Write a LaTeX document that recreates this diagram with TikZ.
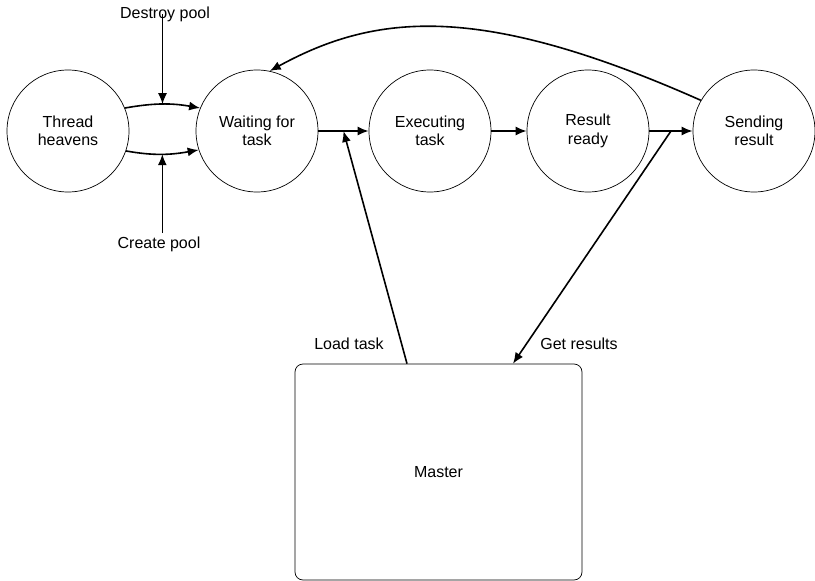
\documentclass[tikz,border=0pt]{standalone}
\usepackage{fontspec}
\setmainfont{Liberation Sans}
\usetikzlibrary{arrows.meta}

\begin{document}
\begin{tikzpicture}[x=1pt,y=1pt,every node/.style={font=\fontsize{16}{18.5}\selectfont}]
\tikzset{
  phase/.style={draw, circle, minimum size=122pt, inner sep=0pt, align=center, line width=0.7pt},
  flow/.style={line width=1.6pt, -{Latex[length=11pt,width=9pt]}}
}
\useasboundingbox (0,0) rectangle (815,-581);

\node[phase] (heaven) at (68,-131) {Thread\\heavens};
\node[phase] (waiting) at (257,-131) {Waiting for\\task};
\node[phase] (executing) at (430,-131) {Executing\\task};
\node[phase] (ready) at (588,-131) {Result\\ready};
\node[phase] (sending) at (754,-131) {Sending\\result};
\node[draw, rounded corners=8pt, minimum width=287pt, minimum height=216pt, line width=0.7pt] (master) at (438.5,-472) {Master};

\node (destroy) at (165,-14) {Destroy pool};
\node (create) at (159,-244) {Create pool};
\node (load) at (349,-344) {Load task};
\node (get) at (579,-344) {Get results};

\begin{scope}[flow]
\draw (heaven.22) to[out=10,in=170] coordinate[midway] (up) (waiting.158);
\draw (heaven.-19) to[out=-10,in=190] coordinate[midway] (low) (waiting.-162);
\draw (destroy.center -| up) -- (up);
\draw (create.north -| low) -- (low);
\draw (waiting) -- coordinate[midway] (lt) (executing);
\draw (executing) -- (ready);
\draw (ready) -- coordinate[midway] (gr) (sending);
\draw ([xshift=-31.5pt]master.north) -- (lt);
\draw (gr) -- ([xshift=74.5pt]master.north);
\draw (sending.150) .. controls +(-221,98) and +(106,58) .. (waiting.78);
\end{scope}
\end{tikzpicture}
\end{document}
